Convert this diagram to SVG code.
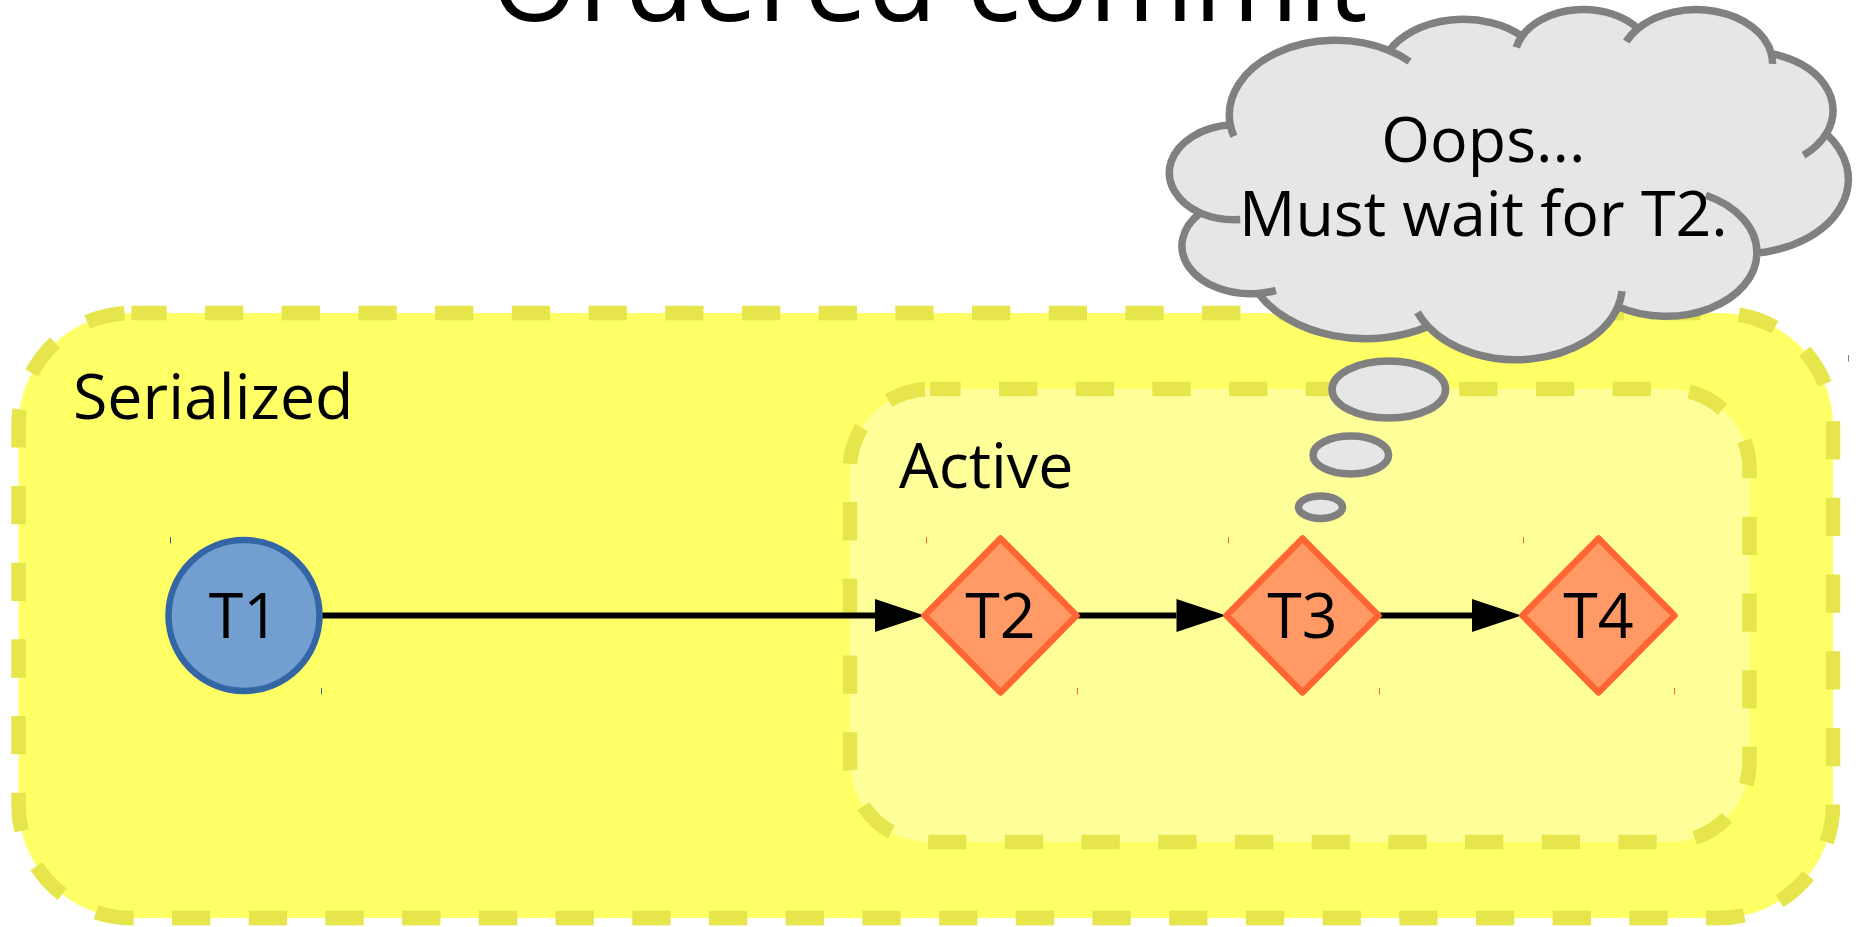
<svg xmlns="http://www.w3.org/2000/svg" width="1858" height="927" viewBox="0 0 1858 927">
  <style>
    text { font-family: "Open Sans", "Noto Sans", "Liberation Sans", sans-serif; fill: #000; }
    .title { font-size: 113.3px; text-anchor: middle; }
    .lbl { font-size: 62.7px; }
    .nlbl { font-size: 62.7px; text-anchor: middle; }
    .group { stroke: #e6e64c; stroke-width: 14.5; stroke-dasharray: 38.3 38.4; }
    .diamond { fill: #ff9966; stroke: #ff6633; stroke-width: 6.5; stroke-linejoin: round; }
    .edge { stroke: #000; stroke-width: 6; fill: none; marker-end: url(#ah); }
    .bubble { fill: #e6e6e6; stroke: #808080; stroke-width: 7.5; }
    .crease { fill: none; stroke: #808080; stroke-width: 7.5; vector-effect: non-scaling-stroke; }
    .tick { stroke-width: 1; }
  </style>
  <defs>
    <marker id="ah" markerUnits="userSpaceOnUse" markerWidth="50" markerHeight="34" refX="0" refY="16.5" orient="auto" overflow="visible">
      <path d="M0,0 L49.5,16.5 L0,33 Z" fill="#000"/>
    </marker>
  </defs>

  <rect x="0" y="0" width="1858" height="927" fill="#fff"/>

  <text class="title" x="929" y="20.7">Ordered commit</text>

  <!-- outer container -->
  <g id="serialized">
    <rect class="group" x="18.5" y="313" width="1814.5" height="605" rx="113" ry="113" fill="#ffff66" stroke-dashoffset="3.2"/>
    <text class="lbl" x="73" y="419">Serialized</text>
  </g>

  <!-- inner container -->
  <g id="active">
    <rect class="group" x="850" y="389" width="899.5" height="453" rx="80" ry="80" fill="#ffff99" stroke-dashoffset="7.7"/>
    <text class="lbl" x="899" y="487.7">Active</text>
  </g>

  <g id="connectors">
    <line class="edge" x1="321" y1="615.5" x2="875" y2="615.5"/>
    <line class="edge" x1="1076.5" y1="615.5" x2="1176.5" y2="615.5"/>
    <line class="edge" x1="1378.5" y1="615.5" x2="1472" y2="615.5"/>
  </g>

  <g id="t1">
    <circle cx="244" cy="615.5" r="75.5" fill="#729fcf" stroke="#3465a4" stroke-width="6.5"/>
    <text class="nlbl" x="244" y="638">T1</text>
    <line class="tick" x1="170.5" y1="537" x2="170.5" y2="543.5" stroke="#3465a4"/>
    <line class="tick" x1="321.5" y1="688" x2="321.5" y2="694.5" stroke="#3465a4"/>
  </g>

  <g id="t2">
    <polygon class="diamond" points="924.5,615.5 1000.5,538.5 1076.5,615.5 1000.5,692.5"/>
    <text class="nlbl" x="1000.5" y="638">T2</text>
    <line class="tick" x1="926.5" y1="537" x2="926.5" y2="543.5" stroke="#ff6633"/>
    <line class="tick" x1="1077.5" y1="688" x2="1077.5" y2="694.5" stroke="#ff6633"/>
  </g>

  <g id="t3">
    <polygon class="diamond" points="1226.5,615.5 1302.5,538.5 1378.5,615.5 1302.5,692.5"/>
    <text class="nlbl" x="1302.5" y="638">T3</text>
    <line class="tick" x1="1228.5" y1="537" x2="1228.5" y2="543.5" stroke="#ff6633"/>
    <line class="tick" x1="1379.5" y1="688" x2="1379.5" y2="694.5" stroke="#ff6633"/>
  </g>

  <g id="t4">
    <polygon class="diamond" points="1522.5,615.5 1598.5,538.5 1674.5,615.5 1598.5,692.5"/>
    <text class="nlbl" x="1598.5" y="638">T4</text>
    <line class="tick" x1="1523.5" y1="537" x2="1523.5" y2="543.5" stroke="#ff6633"/>
    <line class="tick" x1="1674.5" y1="688" x2="1674.5" y2="694.5" stroke="#ff6633"/>
  </g>

  <!-- thought cloud callout -->
  <g id="thought">
    <ellipse class="bubble" cx="1320.5" cy="507.2" rx="22" ry="11.2"/>
    <ellipse class="bubble" cx="1350.8" cy="455" rx="37.8" ry="19"/>
    <ellipse class="bubble" cx="1388.8" cy="389.5" rx="56.8" ry="28.6"/>
    <g transform="translate(1169 8.4) scale(0.0157176 0.0081019)">
      <path fill="#e6e6e6" stroke="#808080" stroke-width="7.5" vector-effect="non-scaling-stroke" stroke-linejoin="round"
        d="M 3900 14370
           A 6753 9190 0 0 1 14006 5203
           A 5333 7267 0 0 1 22457 3433
           A 4365 5945 0 0 1 29834 2481
           A 4857 6595 0 0 1 38319 5576
           A 5333 7273 0 0 1 41819 15460
           A 6775 9220 0 0 1 37405 30204
           A 5785 7867 0 0 1 28557 36814
           A 6752 9215 0 0 1 16481 39265
           A 7720 10543 0 0 1 5691 35188
           A 4360 5918 0 0 1 2000 25266
           A 4345 5945 0 0 1 3900 14370 Z"/>
      <path class="crease"
        d="M 4533 26063 A 4345 5945 0 0 1 2000 25266
           M 6799 34806 A 4360 5918 0 0 1 5691 35188
           M 16481 39265 A 6752 9215 0 0 1 15813 37525
           M 28823 34904 A 6752 9215 0 0 1 28557 36814
           M 34154 23068 A 5785 7867 0 0 1 37405 30204
           M 41819 15460 A 5333 7273 0 0 1 40371 18136
           M 38319 5576 A 4857 6595 0 0 1 38395 6840
           M 29091 4094 A 4857 6595 0 0 1 29834 2481
           M 22097 4822 A 4365 5945 0 0 1 22457 3433
           M 14006 5203 A 6753 9190 0 0 1 15306 6551
           M 4127 15789 A 6753 9190 0 0 1 3900 14370"/>
    </g>
    <line class="tick" x1="1848.5" y1="355" x2="1848.5" y2="361.5" stroke="#808080"/>
    <text class="nlbl" x="1483.4" y="162.3">Oops...</text>
    <text class="nlbl" x="1483.4" y="236">Must wait for T2.</text>
  </g>
</svg>
